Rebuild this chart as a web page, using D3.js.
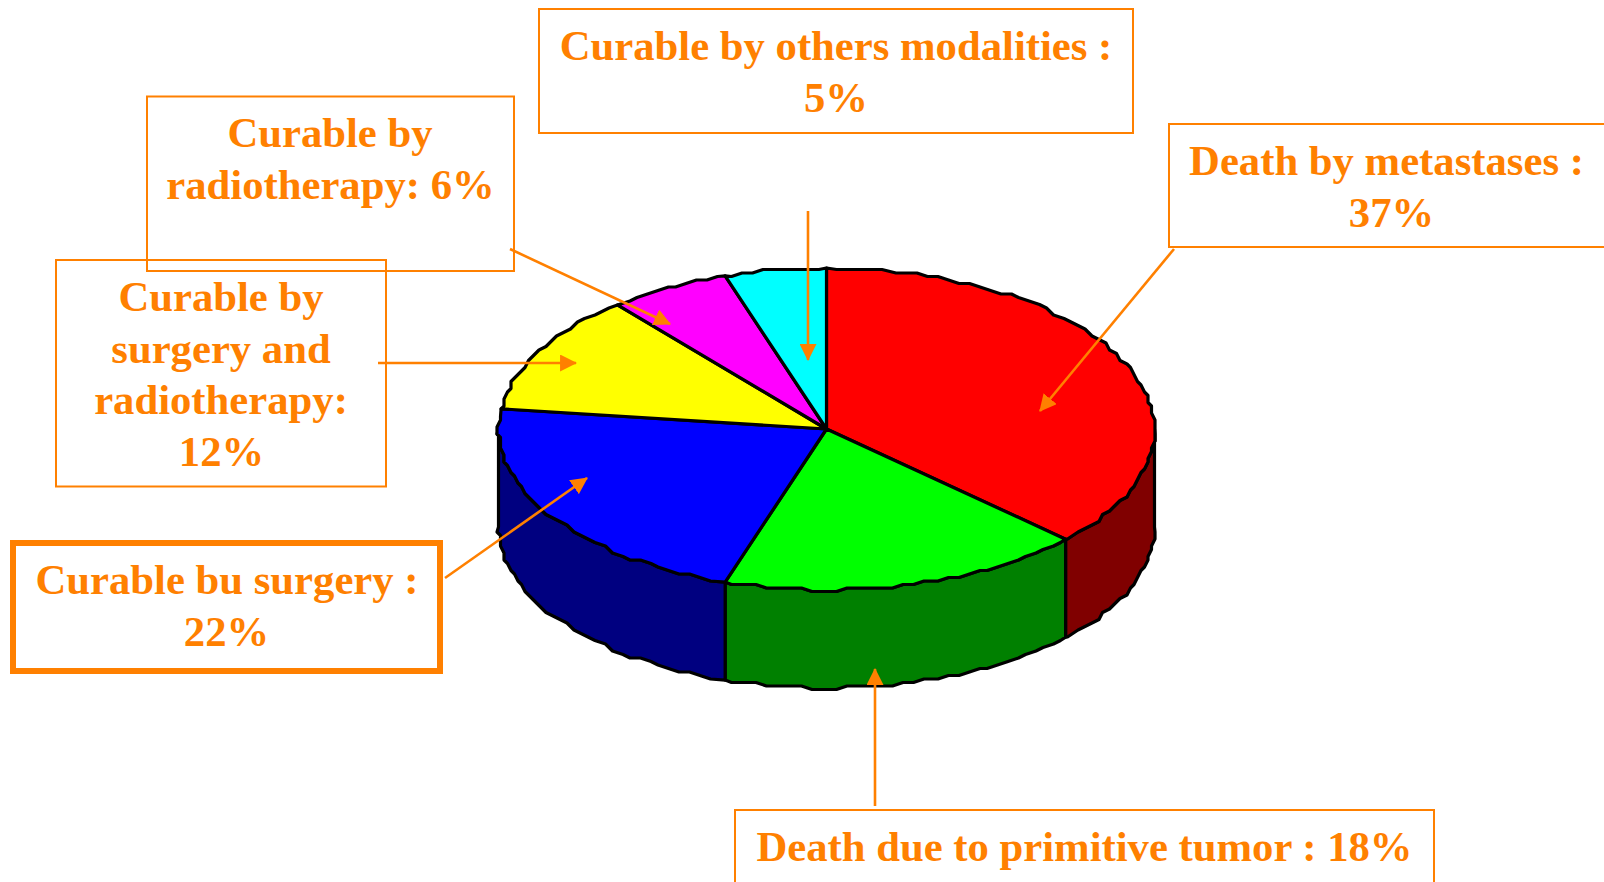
<!DOCTYPE html>
<html>
<head>
<meta charset="utf-8">
<script src="https://cdn.jsdelivr.net/npm/d3@7"></script>
<style>
  html, body { margin: 0; padding: 0; background: #fff; overflow: hidden; }
  text { font-family: "Liberation Serif", serif; font-weight: bold; font-size: 42.7px; fill: #ff8000; text-anchor: middle; }
</style>
</head>
<body>
<div id="chart"></div>
<script>
const categories = ["Death by metastases", "Death due to primitive tumor", "Curable bu surgery",
    "Curable by surgery and radiotherapy", "Curable by radiotherapy", "Curable by others modalities"];
const values = [37, 18, 22, 12, 6, 5];
const topColors = ["#ff0000", "#00ff00", "#0000ff", "#ffff00", "#ff00ff", "#00ffff"];
const sideColors = ["#800000", "#008000", "#000080", "#808000", "#800080", "#008080"];

const labelLines = [
    ["Death by metastases :", "37%"],
    ["Death due to primitive tumor : 18%"],
    ["Curable bu surgery :", "22%"],
    ["Curable by", "surgery and", "radiotherapy:", "12%"],
    ["Curable by", "radiotherapy: 6%"],
    ["Curable by others modalities :", "5%"]
];

// layout of the callouts, one per category: box, text centres/first baseline, arrow
const boxes = [
    {x: 1169, y: 124, w: 440, h: 123, sw: 2, tx: [1386.5, 1391.5], ty: 175, a: [1174, 249, 1040, 411]},
    {x: 735, y: 810, w: 699, h: 90, sw: 2, tx: [1084.5], ty: 861, a: [875, 806, 875, 669]},
    {x: 13, y: 543, w: 427, h: 128, sw: 6, tx: [227, 226.5], ty: 594, a: [445, 578, 587, 478]},
    {x: 56, y: 260, w: 330, h: 226.5, sw: 2, tx: [221, 221, 221, 221.5], ty: 311, a: [378, 363, 576, 363]},
    {x: 147, y: 96.5, w: 367, h: 174.5, sw: 2, tx: [330, 330.5], ty: 147, a: [510, 249, 670, 324]},
    {x: 539, y: 9, w: 594, h: 124, sw: 2, tx: [836, 836], ty: 60, a: [808, 211, 808, 360]}
];

const width = 1604, height = 882;
const cx = 826.5, cy = 429, rx = 328, ry = 161, depth = 98;
const lineGap = 51.5;
const orange = "#ff8000";
const angleStep = 0.035;

const svg = d3.select("#chart").append("svg")
    .attr("width", width)
    .attr("height", height)
    .attr("viewBox", [0, 0, width, height]);

const defs = svg.append("defs");
defs.append("marker")
    .attr("id", "head")
    .attr("viewBox", "0 0 16 16")
    .attr("refX", 15)
    .attr("refY", 8)
    .attr("markerWidth", 17)
    .attr("markerHeight", 17)
    .attr("markerUnits", "userSpaceOnUse")
    .attr("orient", "auto")
  .append("path")
    .attr("fill", orange)
    .attr("d", "M0,0L16,8L0,16Z");

const pie = d3.pie().sort(null).value(d => d)(values);

// the original outline is a rough, stepped polygon: snap the ellipse to a coarse grid
const snap = v => Math.round(v / 3.5) * 3.5;
const edge = (a, dy) => [snap(cx + rx * Math.sin(a)), snap(cy - ry * Math.cos(a)) + dy];
const exact = (a, dy) => [cx + rx * Math.sin(a), cy - ry * Math.cos(a) + dy];
// inner points sit on one shared angle grid so the top face and walls coincide
const arcPoints = (a0, a1, dy) => {
    const first = Math.ceil((a0 + 0.01) / angleStep), last = Math.floor((a1 - 0.01) / angleStep);
    const pts = d3.range(first, last + 1).map(i => edge(i * angleStep, dy));
    return [exact(a0, dy), ...pts, exact(a1, dy)];
};
const line = d3.line();

// side wall, only the front half of the disc shows
const frontStart = Math.PI / 2, frontEnd = 3 * Math.PI / 2;
svg.append("g").selectAll("path")
    .data(pie.filter(d => d.endAngle > frontStart && d.startAngle < frontEnd))
    .join("path")
    .attr("fill", d => sideColors[d.index])
    .attr("stroke", "#000")
    .attr("stroke-width", 3.2)
    .attr("stroke-linejoin", "round")
    .attr("d", d => {
        const a0 = Math.max(d.startAngle, frontStart), a1 = Math.min(d.endAngle, frontEnd);
        const upper = arcPoints(a0, a1, 0), lower = arcPoints(a0, a1, depth).reverse();
        return line([...upper, ...lower]) + "Z";
    });

// top face
svg.append("g").selectAll("path")
    .data(pie)
    .join("path")
    .attr("fill", d => topColors[d.index])
    .attr("stroke", "#000")
    .attr("stroke-width", 3.2)
    .attr("stroke-linejoin", "round")
    .attr("d", d => line([[cx, cy], ...arcPoints(d.startAngle, d.endAngle, 0)]) + "Z");

// callouts
const callout = svg.append("g").selectAll("g")
    .data(categories)
    .join("g")
    .attr("class", "callout");

callout.append("rect")
    .attr("x", (d, i) => boxes[i].x)
    .attr("y", (d, i) => boxes[i].y)
    .attr("width", (d, i) => boxes[i].w)
    .attr("height", (d, i) => boxes[i].h)
    .attr("fill", "none")
    .attr("stroke", orange)
    .attr("stroke-width", (d, i) => boxes[i].sw);

callout.append("line")
    .attr("x1", (d, i) => boxes[i].a[0])
    .attr("y1", (d, i) => boxes[i].a[1])
    .attr("x2", (d, i) => boxes[i].a[2])
    .attr("y2", (d, i) => boxes[i].a[3])
    .attr("stroke", orange)
    .attr("stroke-width", 2.6)
    .attr("marker-end", "url(#head)");

callout.each(function(d, i) {
    d3.select(this).selectAll("text")
        .data(labelLines[i])
        .join("text")
        .attr("x", (t, j) => boxes[i].tx[j])
        .attr("y", (t, j) => boxes[i].ty + j * lineGap)
        .text(t => t);
});
</script>
</body>
</html>
